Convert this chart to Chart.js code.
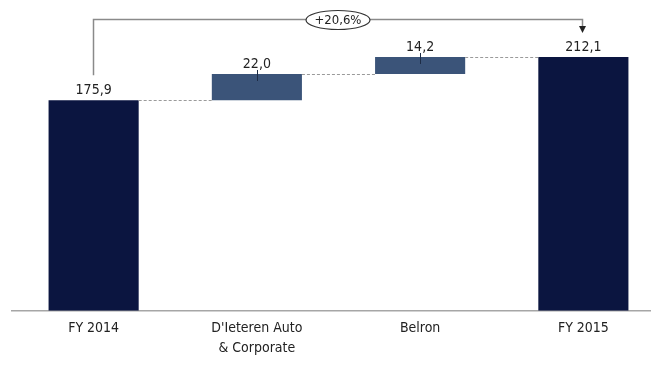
<!DOCTYPE html>
<html>
<head>
<meta charset="utf-8">
<script src="https://cdn.jsdelivr.net/npm/chart.js@4/dist/chart.umd.min.js"></script>
<style>
  html, body { margin: 0; padding: 0; background: #fff; overflow: hidden; }
  #wrap { width: 666px; height: 365px; }
</style>
</head>
<body>
<div id="wrap"><canvas id="chart"></canvas></div>
<script>
// data
const categories = ['FY 2014', ["D'Ieteren Auto", '& Corporate'], 'Belron', 'FY 2015'];
const values = [175.9, 22.0, 14.2, 212.1];
const isTotal = [true, false, false, true];
const growthLabel = '+20,6%';

const FONT = "'DejaVu Sans Condensed', 'Liberation Sans Narrow', 'Liberation Sans', sans-serif";
const TOTAL_COLOR = '#0b1540';
const DELTA_COLOR = '#3b5479';

// floating ranges for the waterfall
let running = 0;
const ranges = values.map((v, i) => {
  if (isTotal[i]) { running = v; return [0, v]; }
  const r = [running, running + v];
  running += v;
  return r;
});

const fmt = v => v.toFixed(1).replace('.', ',');

const waterfallExtras = {
  id: 'waterfallExtras',
  afterDatasetsDraw(chart) {
    const { ctx } = chart;
    const y = chart.scales.y;
    const bars = chart.getDatasetMeta(0).data;
    ctx.save();

    // dashed connectors
    ctx.strokeStyle = '#9a9a9a';
    ctx.lineWidth = 1;
    ctx.setLineDash([3, 2]);
    for (let i = 0; i < bars.length - 1; i++) {
      const level = Math.round(y.getPixelForValue(ranges[i][1])) + 0.5;
      const a = bars[i], b = bars[i + 1];
      ctx.beginPath();
      ctx.moveTo(a.x + a.width / 2, level);
      ctx.lineTo(b.x - b.width / 2, level);
      ctx.stroke();
    }
    ctx.setLineDash([]);

    // small tick on delta bars
    ctx.strokeStyle = '#1d2c45';
    bars.forEach((b, i) => {
      if (isTotal[i]) return;
      const top = y.getPixelForValue(ranges[i][1]);
      ctx.beginPath();
      ctx.moveTo(Math.round(b.x) + 0.5, top - 4);
      ctx.lineTo(Math.round(b.x) + 0.5, top + 7);
      ctx.stroke();
    });

    // value labels
    ctx.fillStyle = '#222';
    ctx.font = '14px ' + FONT;
    ctx.textAlign = 'center';
    ctx.textBaseline = 'bottom';
    bars.forEach((b, i) => {
      const top = y.getPixelForValue(ranges[i][1]);
      ctx.fillText(fmt(values[i]), b.x, top - 3);
    });

    // growth bracket
    const x0 = Math.round(bars[0].x) - 0.5;
    const x1 = Math.round(bars[3].x) - 0.5;
    const yTop = 19.5;
    const yStart = y.getPixelForValue(values[0]) - 25;
    ctx.strokeStyle = '#8a8a8a';
    ctx.lineWidth = 1.5;
    ctx.beginPath();
    ctx.moveTo(x0, yStart);
    ctx.lineTo(x0, yTop);
    ctx.lineTo(x1, yTop);
    ctx.lineTo(x1, 28);
    ctx.stroke();
    ctx.fillStyle = '#222';
    ctx.beginPath();
    ctx.moveTo(x1 - 3.5, 26);
    ctx.lineTo(x1 + 3.5, 26);
    ctx.lineTo(x1, 33);
    ctx.closePath();
    ctx.fill();

    // ellipse with growth label
    const cx = 338, cy = 20;
    ctx.fillStyle = '#fff';
    ctx.strokeStyle = '#333';
    ctx.lineWidth = 1.2;
    ctx.beginPath();
    ctx.ellipse(cx, cy, 32, 9.5, 0, 0, Math.PI * 2);
    ctx.fill();
    ctx.stroke();
    ctx.fillStyle = '#222';
    ctx.font = '13px ' + FONT;
    ctx.textBaseline = 'middle';
    ctx.fillText(growthLabel, cx, cy + 1);
    ctx.restore();
  }
};

new Chart(document.getElementById('chart'), {
  type: 'bar',
  data: {
    labels: categories,
    datasets: [{
      data: ranges,
      backgroundColor: isTotal.map(t => t ? TOTAL_COLOR : DELTA_COLOR),
      borderWidth: 0,
      borderSkipped: false,
      barPercentage: 1,
      categoryPercentage: 0.552
    }]
  },
  options: {
    responsive: true,
    maintainAspectRatio: false,
    animation: false,
    devicePixelRatio: 1,
    layout: { padding: { top: 20, left: 12, right: 1, bottom: 7 } },
    scales: {
      y: {
        display: false,
        min: 0,
        max: 243
      },
      x: {
        grid: { display: false },
        border: { display: true, color: '#a6a6a6', width: 1.5 },
        ticks: {
          color: '#222',
          padding: 0,
          maxRotation: 0,
          font: { family: FONT, size: 14, lineHeight: 1.4 }
        }
      }
    },
    plugins: {
      legend: { display: false },
      tooltip: { enabled: false }
    }
  },
  plugins: [waterfallExtras]
});
</script>
</body>
</html>
